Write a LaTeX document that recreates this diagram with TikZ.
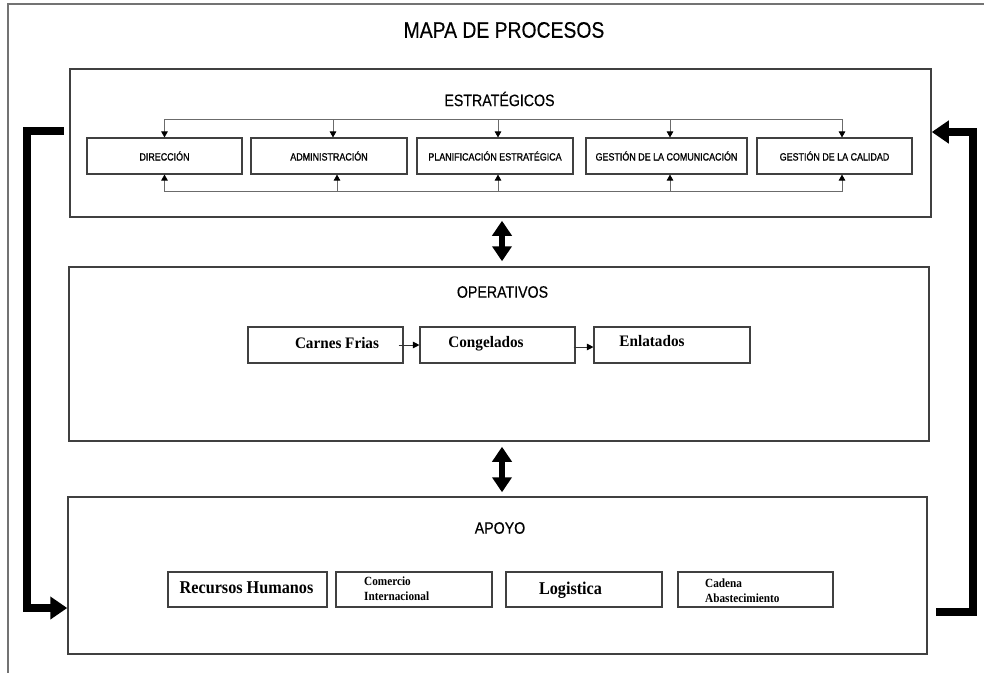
\documentclass[tikz,border=0pt]{standalone}
\usepackage{fontspec}
\usetikzlibrary{arrows.meta}
\newfontfamily\tah[FakeStretch=0.86,FakeBold=0.4]{Liberation Sans}
\newfontfamily\tahb[FakeStretch=0.85,FakeBold=1.2]{Liberation Sans}
\newfontfamily\tim[FakeStretch=0.95]{Liberation Serif}
\newfontfamily\timc[FakeStretch=0.9]{Liberation Serif}
\definecolor{edgec}{gray}{0.25}
\definecolor{busc}{gray}{0.42}
\definecolor{framec}{gray}{0.45}
\begin{document}
\begin{tikzpicture}[x=1pt,y=-1pt,
  secbox/.style={draw=edgec,line width=1.5pt,inner sep=0pt},
  subbox/.style={draw=edgec,line width=1.1pt,inner sep=0pt},
  seclabel/.style={inner sep=0pt,font=\tah\fontsize{16.5}{20}\selectfont},
  stlabel/.style={font=\tahb\fontsize{10.5}{12}\selectfont},
  optext/.style={inner sep=0pt,font=\tim\bfseries\fontsize{16}{19}\selectfont},
  aptext/.style={inner sep=0pt,font=\timc\bfseries\fontsize{18}{21}\selectfont},
  apsmall/.style={inner sep=0pt,align=left,font=\timc\bfseries\fontsize{12.5}{15}\selectfont},
  bus/.style={draw=busc,line width=0.9pt},
  sarr/.style={bus,-{Triangle[width=6.5pt,length=6pt,color=black]}},
  oarr/.style={draw=black!80,line width=0.9pt,-{Triangle[width=6.5pt,length=6.5pt,color=black]}},
  dbl/.style={line width=5.5pt,{Triangle[width=19pt,length=15pt]}-{Triangle[width=19pt,length=15pt]}},
  brk/.style={line width=7.5pt,line join=miter,-{Triangle[width=22pt,length=17pt]}}
]
\useasboundingbox (0,0) rectangle (984,673);
\fill[white] (0,0) rectangle (984,673);
% outer frame
\draw[draw=framec,line width=1.6pt] (984,4) -- (8,4) -- (8,673);

% title
\node[inner sep=0pt,font=\tah\fontsize{22.5}{26}\selectfont] (title) at (504,30) {MAPA DE PROCESOS};

% section boxes
\node[secbox,minimum width=861pt,minimum height=148pt] (est) at (500.5,143) {};
\node[secbox,minimum width=860pt,minimum height=174pt] (ope) at (499,354) {};
\node[secbox,minimum width=859pt,minimum height=157pt] (apo) at (497.5,575.5) {};

\node[seclabel] (estl) at (499.5,99) {ESTRATÉGICOS};
\node[seclabel] (opel) at (502.5,292) {OPERATIVOS};
\node[seclabel] (apol) at (500,528) {APOYO};

% strategic sub boxes
\node[subbox,stlabel,minimum width=155pt,minimum height=36pt] (dir) at (164.5,156) {DIRECCIÓN};
\node[subbox,stlabel,minimum width=156pt,minimum height=36pt] (adm) at (329,156) {ADMINISTRACIÓN};
\node[subbox,stlabel,minimum width=156pt,minimum height=36pt] (pla) at (495,156) {PLANIFICACIÓN ESTRATÉGICA};
\node[subbox,stlabel,minimum width=161pt,minimum height=36pt] (com) at (666.5,156) {GESTIÓN DE LA COMUNICACIÓN};
\node[subbox,stlabel,minimum width=155pt,minimum height=36pt] (cal) at (834.5,156) {GESTIÓN DE LA CALIDAD};

% top bus
\draw[bus] ([yshift=18pt]dir.north) -- ([xshift=7.5pt,yshift=18pt]cal.north);
\draw[sarr] ([yshift=18pt]dir.north) -- (dir.north);
\draw[sarr] ([xshift=4pt,yshift=18pt]adm.north) -- ([xshift=4pt]adm.north);
\draw[sarr] ([xshift=3pt,yshift=18pt]pla.north) -- ([xshift=3pt]pla.north);
\draw[sarr] ([xshift=3.5pt,yshift=18pt]com.north) -- ([xshift=3.5pt]com.north);
\draw[sarr] ([xshift=7.5pt,yshift=18pt]cal.north) -- ([xshift=7.5pt]cal.north);
% bottom bus
\draw[bus] ([yshift=-17pt]dir.south) -- ([xshift=7.5pt,yshift=-17pt]cal.south);
\draw[sarr] ([yshift=-17pt]dir.south) -- (dir.south);
\draw[sarr] ([xshift=8pt,yshift=-17pt]adm.south) -- ([xshift=8pt]adm.south);
\draw[sarr] ([xshift=3pt,yshift=-17pt]pla.south) -- ([xshift=3pt]pla.south);
\draw[sarr] ([xshift=3.5pt,yshift=-17pt]com.south) -- ([xshift=3.5pt]com.south);
\draw[sarr] ([xshift=7.5pt,yshift=-17pt]cal.south) -- ([xshift=7.5pt]cal.south);

% operative sub boxes
\node[subbox,minimum width=155pt,minimum height=36pt] (car) at (325.5,345) {};
\node[subbox,minimum width=155pt,minimum height=36pt] (con) at (497.5,345) {};
\node[subbox,minimum width=156pt,minimum height=36pt] (enl) at (672,345) {};
\node[optext] (cart) at (337,343) {Carnes Frias};
\node[optext] (cont) at (486,344) {Congelados};
\node[optext] (enlt) at (652,341) {Enlatados};
\draw[oarr] ([xshift=-5pt]car.east) -- (con.west);
\draw[oarr] ([xshift=-2pt,yshift=-2pt]con.east) -- ([yshift=-2pt]enl.west);

% support sub boxes
\node[subbox,minimum width=159pt,minimum height=35pt] (rec) at (247.5,589.5) {};
\node[subbox,minimum width=156pt,minimum height=35pt] (cin) at (414,589.5) {};
\node[subbox,minimum width=156pt,minimum height=35pt] (log) at (584,589.5) {};
\node[subbox,minimum width=155pt,minimum height=35pt] (cad) at (755.5,589.5) {};
\node[aptext] (rect) at (246.5,588) {Recursos Humanos};
\node[apsmall,anchor=west] (cint) at (364,588.5) {Comercio\\Internacional};
\node[aptext] (logt) at (570.5,590) {Logistica};
\node[apsmall,anchor=west] (cadt) at (705,590.5) {Cadena\\Abastecimiento};

% double arrows between sections
\coordinate (xm) at (502,0);
\draw[dbl,shorten <=3pt,shorten >=5pt] (est.south -| xm) -- (ope.north -| xm);
\draw[dbl,shorten <=5pt,shorten >=4pt] (ope.south -| xm) -- (apo.north -| xm);

% side brackets
\coordinate (ls) at (64,131);
\coordinate (lrow) at (0,608);
\draw[brk] (ls) -- (27,131) -- (27,608) -- (apo.west |- lrow);
\coordinate (rs) at (936,612);
\coordinate (rrow) at (0,132);
\draw[brk] (rs) -- (973,612) -- (973,132) -- (est.east |- rrow);
\end{tikzpicture}
\end{document}
